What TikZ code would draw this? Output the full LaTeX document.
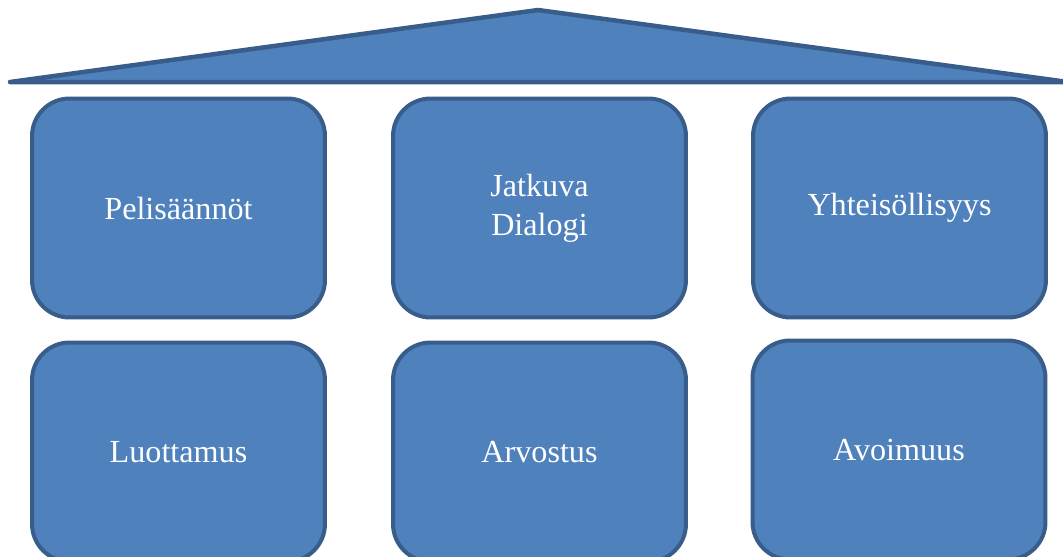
\documentclass[tikz,border=0pt]{standalone}
\usepackage{fontspec}
\setmainfont{Liberation Serif}
\definecolor{pillarfill}{RGB}{79,129,189}
\definecolor{pillarline}{RGB}{56,93,138}
\tikzset{
  pillar/.style={draw=pillarline, fill=pillarfill, line width=0.08cm,
    rounded corners=0.75cm, minimum width=5.86cm, minimum height=4.38cm,
    text=white, align=center, font=\fontsize{18.3}{22}\selectfont},
  roof/.style={draw=pillarline, fill=pillarfill, line width=0.09cm, line join=round}
}
\begin{document}
\begin{tikzpicture}[x=0.02cm, y=-0.02cm]
  \useasboundingbox (0, 0) rectangle (1063, 556);
  % roof
  \coordinate (rl) at (10, 82);
  \coordinate (rt) at (538, 10);
  \coordinate (rr) at (1068, 82);
  \draw[roof] (rl) -- (rt) -- (rr) -- cycle;
  % top row
  \node[pillar] (saannot) at (178.5, 208) {Pelisäännöt};
  \node[pillar] (dialogi) at (539.5, 208) {Jatkuva\\Dialogi};
  \node[pillar] (yhteis) at (899.5, 208) {Yhteisöllisyys};
  % bottom row
  \node[pillar] (luotto) at (178.5, 452) {Luottamus};
  \node[pillar] (arvo) at (539.5, 452) {Arvostus};
  \node[pillar] (avoin) at (899, 450) {Avoimuus};
\end{tikzpicture}
\end{document}
